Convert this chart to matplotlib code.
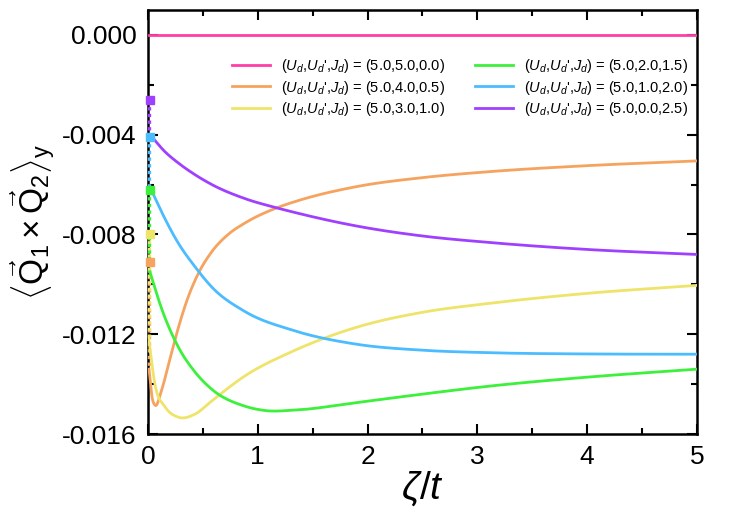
import matplotlib
matplotlib.use("Agg")
import matplotlib.pyplot as plt
from matplotlib.ticker import MultipleLocator, FuncFormatter
import numpy as np

plt.rcParams["font.family"] = ["Liberation Sans", "DejaVu Sans"]
plt.rcParams["mathtext.fontset"] = "custom"
plt.rcParams["mathtext.rm"] = "Liberation Sans"
plt.rcParams["mathtext.it"] = "Liberation Sans:italic"

# values; first entry is the zeta = 0 value (square marker)
labels = [
    "(5.0,5.0,0.0)",
    "(5.0,4.0,0.5)",
    "(5.0,3.0,1.0)",
    "(5.0,2.0,1.5)",
    "(5.0,1.0,2.0)",
    "(5.0,0.0,2.5)",
]
colors = ["#ff3fa6", "#f5a35f", "#efe46a", "#3cf03c", "#4bbcff", "#a040ff"]

zeta_pink = [0.0, 0.01, 1.0, 2.0, 3.0, 4.0, 5.0]
val_pink = [0.0, 0.0, 0.0, 0.0, 0.0, 0.0, 0.0]

zeta_orange = [0.0, 0.01, 0.036, 0.064, 0.127, 0.2, 0.273, 0.364, 0.455, 0.58, 0.73, 0.88,
               1.18, 1.34, 1.9, 2.5, 3.11, 4.0, 5.0]
val_orange = [-0.0091, -0.0134, -0.01448, -0.01484, -0.0142, -0.0130, -0.0118, -0.01054, -0.0096,
              -0.0087, -0.0080, -0.00755, -0.00692, -0.00668, -0.00608, -0.00572, -0.00548,
              -0.00524, -0.00505]

zeta_yellow = [0.0, 0.005, 0.064, 0.155, 0.273, 0.43, 0.58, 0.88, 1.32, 1.9, 2.5, 3.11, 4.0, 5.0]
val_yellow = [-0.0080, -0.0121, -0.0140, -0.0149, -0.01532, -0.0152, -0.01468, -0.01368, -0.01268,
              -0.01172, -0.01112, -0.01076, -0.01036, -0.01004]

zeta_green = [0.0, 0.02, 0.127, 0.273, 0.43, 0.58, 0.88, 1.07, 1.34, 1.9, 2.5, 3.11, 4.0, 5.0]
val_green = [-0.0062, -0.00952, -0.0110, -0.01248, -0.01352, -0.0142, -0.01488, -0.01506, -0.01504,
             -0.01474, -0.0144, -0.01408, -0.01372, -0.0134]

zeta_blue = [0.0, 0.02, 0.127, 0.273, 0.43, 0.58, 0.88, 1.32, 1.9, 2.5, 3.11, 4.0, 5.0]
val_blue = [-0.0041, -0.00612, -0.00712, -0.00832, -0.0093, -0.0101, -0.01108, -0.01184, -0.0124,
            -0.01264, -0.01274, -0.01279, -0.0128]

zeta_purple = [0.0, 0.02, 0.155, 0.273, 0.428, 0.583, 0.883, 1.18, 1.34, 1.9, 2.5, 3.11, 4.0, 5.0]
val_purple = [-0.0026, -0.0040, -0.00468, -0.00512, -0.0056, -0.0060, -0.00656, -0.00694, -0.00712,
              -0.00766, -0.00806, -0.00832, -0.0086, -0.0088]

series = [
    (zeta_pink, val_pink),
    (zeta_orange, val_orange),
    (zeta_yellow, val_yellow),
    (zeta_green, val_green),
    (zeta_blue, val_blue),
    (zeta_purple, val_purple),
]


def smooth(x, y, n=600):
    # cubic Hermite curve through the read points, centred-difference slopes
    x = np.asarray(x, float)
    y = np.asarray(y, float)
    h = np.diff(x)
    d = np.diff(y) / h
    m = np.empty_like(y)
    m[0], m[-1] = d[0], d[-1]
    m[1:-1] = (h[1:] * d[:-1] + h[:-1] * d[1:]) / (h[:-1] + h[1:])
    xs = np.unique(np.concatenate([np.linspace(x[0], x[-1], n), np.linspace(x[0], 0.6, 300), x]))
    idx = np.clip(np.searchsorted(x, xs, side="right") - 1, 0, len(x) - 2)
    t = (xs - x[idx]) / h[idx]
    h00 = 2 * t**3 - 3 * t**2 + 1
    h10 = t**3 - 2 * t**2 + t
    h01 = -2 * t**3 + 3 * t**2
    h11 = t**3 - t**2
    ys = h00 * y[idx] + h10 * h[idx] * m[idx] + h01 * y[idx + 1] + h11 * h[idx] * m[idx + 1]
    return xs, ys


fig = plt.figure(figsize=(7.47, 5.28), dpi=100)
ax = fig.add_axes([0.198, 0.178, 0.735, 0.803])

for (z, v), c, lab in zip(series, colors, labels):
    if v[0] != v[1]:
        # dotted jump at zeta = 0
        ax.plot([0.012, 0.012], [v[0], v[1]], color=c, linestyle=(0, (1.0, 1.0)), linewidth=2.4,
                zorder=3, clip_on=False)
        ax.plot([0.02], [v[0]], marker="s", markersize=5.5, color=c, linestyle="none", zorder=4,
                clip_on=False)
    xs, ys = smooth(z[1:], v[1:])
    ax.plot(xs, ys, color=c, linewidth=2.0, zorder=3,
            label=r"($U_d$,$U_d$',$J_d$) = " + lab)

ax.set_xlim(0, 5)
ax.set_ylim(-0.016, 0.001)
ax.xaxis.set_major_locator(MultipleLocator(1))
ax.xaxis.set_minor_locator(MultipleLocator(0.5))
ax.yaxis.set_major_locator(MultipleLocator(0.004))
ax.yaxis.set_minor_locator(MultipleLocator(0.002))
ax.yaxis.set_major_formatter(FuncFormatter(lambda v, p: f"{v:.3f}"))
ax.tick_params(which="both", direction="in", top=True, right=True, width=1.5)
ax.tick_params(which="major", length=7, labelsize=19, pad=8)
ax.tick_params(which="minor", length=4)
for s in ax.spines.values():
    s.set_linewidth(1.8)

ax.set_xlabel(r"$\zeta/t$", fontsize=28, labelpad=0)
ax.set_ylabel(r"$\langle\vec{\mathrm{Q}}_1\times\vec{\mathrm{Q}}_2\rangle_{\mathrm{y}}$",
              fontsize=24, labelpad=4)

ax.legend(loc="upper right", bbox_to_anchor=(1.0, 0.91), ncol=2, frameon=False,
          fontsize=10.5, handlelength=2.6, columnspacing=2.0, labelspacing=0.25,
          borderaxespad=0.2)

fig.savefig("out.png", dpi=100)
